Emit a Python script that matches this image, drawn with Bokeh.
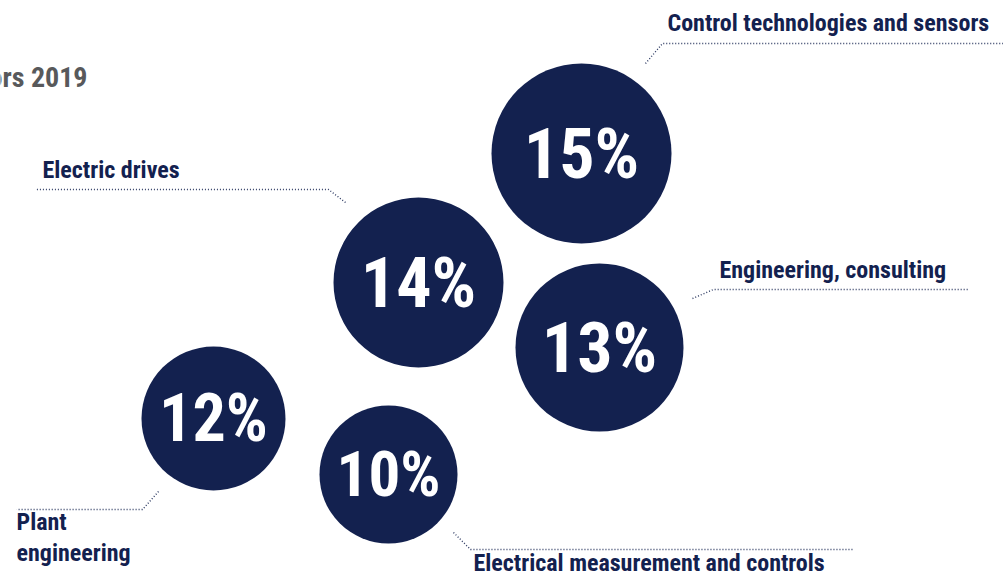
from bokeh.plotting import figure
from bokeh.models import Range1d, ColumnDataSource
from bokeh.core.properties import value
from bokeh.embed import file_html
from bokeh.resources import INLINE

# ---- data ----
categories = ["Control technologies and sensors", "Electric drives",
              "Engineering, consulting", "Plant engineering",
              "Electrical measurement and controls"]
shares = [15, 14, 13, 12, 10]
title_text = "ors 2019"

# ---- layout (reference pixel coordinates) ----
cx = [581, 418, 599, 213, 388]
cy = [153, 282, 347, 418, 474]
rad = [90, 85, 84, 72, 69]
pct_size = [70, 70, 70, 66, 63]
label_x = [667, 42, 719, 16, 473]
label_y = [22, 169, 269, 537, 562]
label_wrap = ["Control technologies and sensors", "Electric drives",
              "Engineering, consulting", "Plant\nengineering",
              "Electrical measurement and controls"]
leader_xs = [[645, 662, 1003], [345, 328, 36], [692, 713, 968], [158, 142, 16], [453, 470, 853]]
leader_ys = [[63, 43, 43], [202, 189, 189], [298, 289, 289], [491, 509, 509], [532, 549, 549]]

NAVY = "#13214f"
FONT = ("'Roboto Condensed', 'Noto Sans Condensed', 'Liberation Sans Narrow', "
        "'Arial Narrow', Roboto, sans-serif")

W, H = 1003, 577
p = figure(width=W, height=H, output_backend="svg", toolbar_location=None,
           x_range=Range1d(0, W), y_range=Range1d(H, 0),
           min_border=0, border_fill_color="white", background_fill_color="white")
p.axis.visible = False
p.grid.visible = False
p.outline_line_color = None

p.multi_line(xs=leader_xs, ys=leader_ys, line_color="#2e3b63", line_width=1.4,
             line_dash="1 2")

src = ColumnDataSource(dict(x=cx, y=cy, r=rad,
                            t=[f"{s}%" for s in shares],
                            fs=[f"{fs}px" for fs in pct_size]))
p.circle(x="x", y="y", radius="r", source=src, fill_color=NAVY, line_color=None)
p.text(x="x", y="y", text="t", source=src, text_color="white",
       text_font=value(FONT), text_font_style="bold", text_font_size="fs",
       text_align="center", text_baseline="middle")

lsrc = ColumnDataSource(dict(x=label_x, y=label_y, t=label_wrap, cat=categories))
p.text(x="x", y="y", text="t", source=lsrc, text_color=NAVY,
       text_font=value(FONT), text_font_style="bold", text_font_size="24px",
       text_align="left", text_baseline="middle", text_line_height=1.1)

p.text(x=[87], y=[77], text=[title_text], text_color="#58595b",
       text_font=value(FONT), text_font_style="bold", text_font_size="28px",
       text_align="right", text_baseline="middle")

open("out.html", "w").write(file_html(p, INLINE))
